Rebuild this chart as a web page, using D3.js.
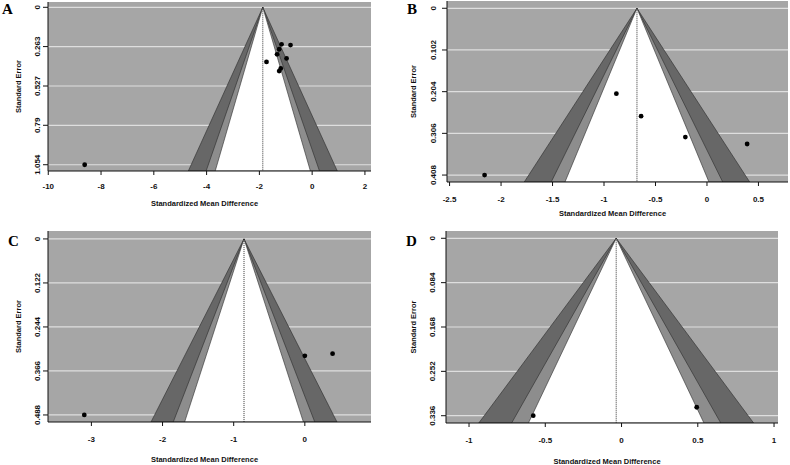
<!DOCTYPE html>
<html>
<head>
  <script src="https://d3js.org/d3.v7.min.js"></script>
  <style>
    body { margin: 0; background: #fff; }
    text { font-family: "Liberation Sans", Arial, sans-serif; font-weight: bold; fill: #111; }
    .lab { font-family: "Liberation Serif", "Times New Roman", serif; font-size: 15px; fill: #000; }
  </style>
</head>
<body>
<svg width="790" height="465"></svg>
<script>
// panel A
var smdA = [-1.16, -0.82, -1.25, -1.33, -0.97, -1.73, -1.19, -1.25, -8.62];
var seA  = [0.248, 0.253, 0.281, 0.315, 0.342, 0.366, 0.409, 0.427, 1.054];
var estA = -1.87;
var xTicksA = [-10, -8, -6, -4, -2, 0, 2];
var yTicksA = [0, 0.263, 0.527, 0.79, 1.054];

// panel B
var smdB = [-0.88, -0.64, -0.21, 0.39, -2.16];
var seB  = [0.209, 0.264, 0.315, 0.332, 0.408];
var estB = -0.68;
var xTicksB = [-2.5, -2, -1.5, -1, -0.5, 0, 0.5];
var yTicksB = [0, 0.102, 0.204, 0.306, 0.408];

// panel C
var smdC = [0.0, 0.39, -3.1];
var seC  = [0.324, 0.318, 0.488];
var estC = -0.855;
var xTicksC = [-3, -2, -1, 0];
var yTicksC = [0, 0.122, 0.244, 0.366, 0.488];

// panel D
var smdD = [-0.579, 0.493];
var seD  = [0.336, 0.320];
var estD = -0.035;
var xTicksD = [-1, -0.5, 0, 0.5, 1];
var yTicksD = [0, 0.084, 0.168, 0.252, 0.336];

// contour levels (z for 99%, 95%, 90%) and their fills
var zLevels = [2.576, 1.96, 1.645];
var zFills = ["#676767", "#8d8d8d", "#ffffff"];

var panels = [
  {label: "A", smd: smdA, se: seA, est: estA, xt: xTicksA, yt: yTicksA,
   xd: [-10.01, 2.23], yd: [-0.0355, 1.096], box: [48, 371, 2, 171],
   labPos: [2, 14], yTitleX: 21, yTickX: 39.5, xTickDy: 18, xTitleDy: 35},
  {label: "B", smd: smdB, se: seB, est: estB, xt: xTicksB, yt: yTicksB,
   xd: [-2.525, 0.787], yd: [-0.0178, 0.425], box: [447, 788, 1, 182],
   labPos: [407, 14], yTitleX: 416, yTickX: 435.5, xTickDy: 20, xTitleDy: 34},
  {label: "C", smd: smdC, se: seC, est: estC, xt: xTicksC, yt: yTicksC,
   xd: [-3.61, 0.93], yd: [-0.022, 0.5075], box: [48, 371, 231, 422],
   labPos: [8, 246], yTitleX: 21, yTickX: 39.5, xTickDy: 20, xTitleDy: 40},
  {label: "D", smd: smdD, se: seD, est: estD, xt: xTicksD, yt: yTicksD,
   xd: [-1.151, 1.026], yd: [-0.0138, 0.3498], box: [446, 778, 231, 423],
   labPos: [406, 246], yTitleX: 416, yTickX: 434.5, xTickDy: 20, xTitleDy: 41}
];

var svg = d3.select("svg");

panels.forEach(function(p, i){
  var L = p.box[0], R = p.box[1], T = p.box[2], B = p.box[3];
  var x = d3.scaleLinear().domain(p.xd).range([L, R]);
  var y = d3.scaleLinear().domain(p.yd).range([T, B]);
  var seMax = p.yd[1];
  var g = svg.append("g");

  g.append("clipPath").attr("id", "clip" + i)
    .append("rect").attr("x", L).attr("y", T).attr("width", R - L).attr("height", B - T);

  // background
  g.append("rect").attr("x", L).attr("y", T).attr("width", R - L).attr("height", B - T)
    .attr("fill", "#a6a6a6");

  // horizontal reference lines
  g.selectAll(".grid").data(p.yt).enter().append("line")
    .attr("x1", L).attr("x2", R)
    .attr("y1", function(d){ return y(d); }).attr("y2", function(d){ return y(d); })
    .attr("stroke", "#dedede").attr("stroke-width", 1.2);

  // contour funnel
  var fg = g.append("g").attr("clip-path", "url(#clip" + i + ")");
  zLevels.forEach(function(z, k){
    var pts = [[p.est, 0], [p.est - z * seMax, seMax], [p.est + z * seMax, seMax]];
    fg.append("polygon")
      .attr("points", pts.map(function(q){ return x(q[0]) + "," + y(q[1]); }).join(" "))
      .attr("fill", zFills[k]).attr("stroke", "#2a2a2a").attr("stroke-width", 0.6);
  });

  // estimate line
  g.append("line").attr("x1", x(p.est)).attr("x2", x(p.est))
    .attr("y1", y(0)).attr("y2", B)
    .attr("stroke", "#000").attr("stroke-width", 0.8).attr("stroke-dasharray", "1,1");

  // studies
  g.selectAll(".pt").data(p.smd).enter().append("circle")
    .attr("cx", function(d){ return x(d); })
    .attr("cy", function(d, j){ return y(p.se[j]); })
    .attr("r", 2.4).attr("fill", "#000");

  // axes lines
  g.append("line").attr("x1", L).attr("x2", R).attr("y1", B).attr("y2", B)
    .attr("stroke", "#111").attr("stroke-width", 1);
  g.append("line").attr("x1", L).attr("x2", L).attr("y1", T).attr("y2", B)
    .attr("stroke", "#111").attr("stroke-width", 1);

  // x ticks
  g.selectAll(".xt").data(p.xt).enter().append("line")
    .attr("x1", function(d){ return x(d); }).attr("x2", function(d){ return x(d); })
    .attr("y1", B).attr("y2", B + 4).attr("stroke", "#111");
  g.selectAll(".xl").data(p.xt).enter().append("text")
    .attr("x", function(d){ return x(d); }).attr("y", B + p.xTickDy)
    .attr("text-anchor", "middle").attr("font-size", "8px")
    .text(function(d){ return String(d); });

  // y ticks
  g.selectAll(".yt").data(p.yt).enter().append("line")
    .attr("x1", L - 5).attr("x2", L)
    .attr("y1", function(d){ return y(d); }).attr("y2", function(d){ return y(d); })
    .attr("stroke", "#111");
  g.selectAll(".yl").data(p.yt).enter().append("text")
    .attr("transform", function(d){ return "translate(" + p.yTickX + "," + y(d) + ") rotate(-90)"; })
    .attr("text-anchor", "middle").attr("font-size", "8px")
    .text(function(d){ return String(d); });

  // titles
  g.append("text").attr("x", (L + R) / 2 - 5).attr("y", B + p.xTitleDy)
    .attr("text-anchor", "middle").attr("font-size", "7.5px")
    .text("Standardized Mean Difference");
  g.append("text")
    .attr("transform", "translate(" + p.yTitleX + "," + ((T + B) / 2) + ") rotate(-90)")
    .attr("text-anchor", "middle").attr("font-size", "7.5px")
    .text("Standard Error");

  g.append("text").attr("class", "lab").attr("x", p.labPos[0]).attr("y", p.labPos[1])
    .text(p.label);
});
</script>
</body>
</html>
